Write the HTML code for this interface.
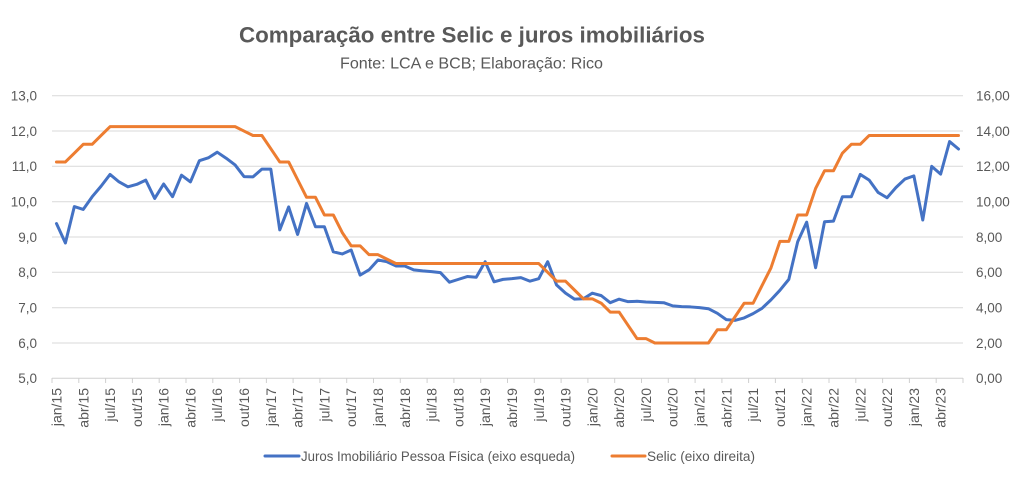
<!DOCTYPE html>
<html>
<head>
<meta charset="utf-8">
<style>
  html, body { margin:0; padding:0; background:#ffffff; }
  body { width:1023px; height:480px; overflow:hidden; }
  svg { display:block; }
  text { font-family: "Liberation Sans", sans-serif; fill:#595959; }
</style>
</head>
<body>
<svg width="1023" height="480" viewBox="0 0 1023 480" xmlns="http://www.w3.org/2000/svg">
  <rect x="0" y="0" width="1023" height="480" fill="#ffffff"/>

  <!-- Title -->
  <text x="472" y="42.5" text-anchor="middle" font-size="22" font-weight="bold" textLength="466" lengthAdjust="spacingAndGlyphs" style="fill:#595959">Comparação entre Selic e juros imobiliários</text>
  <text x="471.5" y="68.3" text-anchor="middle" font-size="15.5" textLength="263" lengthAdjust="spacingAndGlyphs" style="fill:#595959">Fonte: LCA e BCB; Elaboração: Rico</text>

  <!-- Gridlines -->
  <g stroke="#d9d9d9" stroke-width="1">
    <line x1="52" y1="95.7" x2="963" y2="95.7"/>
    <line x1="52" y1="131" x2="963" y2="131"/>
    <line x1="52" y1="166.3" x2="963" y2="166.3"/>
    <line x1="52" y1="201.7" x2="963" y2="201.7"/>
    <line x1="52" y1="237" x2="963" y2="237"/>
    <line x1="52" y1="272.3" x2="963" y2="272.3"/>
    <line x1="52" y1="307.7" x2="963" y2="307.7"/>
    <line x1="52" y1="343" x2="963" y2="343"/>
  </g>
  <!-- X axis line and ticks -->
  <g stroke="#d0d0d0" stroke-width="1">
    <line x1="52" y1="378.3" x2="963" y2="378.3"/>
    <path d="M52,378 v5 M78.8,378 v5 M105.6,378 v5 M132.4,378 v5 M159.2,378 v5 M186,378 v5 M212.8,378 v5 M239.6,378 v5 M266.4,378 v5 M293.1,378 v5 M319.9,378 v5 M346.7,378 v5 M373.5,378 v5 M400.3,378 v5 M427.1,378 v5 M453.9,378 v5 M480.7,378 v5 M507.5,378 v5 M534.3,378 v5 M561.1,378 v5 M587.9,378 v5 M614.7,378 v5 M641.5,378 v5 M668.3,378 v5 M695.1,378 v5 M721.9,378 v5 M748.6,378 v5 M775.4,378 v5 M802.2,378 v5 M829,378 v5 M855.8,378 v5 M882.6,378 v5 M909.4,378 v5 M936.2,378 v5 M963,378 v5" fill="none"/>
  </g>

  <!-- Left axis labels -->
  <g font-size="13.5" text-anchor="end">
    <text x="37" y="95.7" dy="0.36em">13,0</text>
    <text x="37" y="131" dy="0.36em">12,0</text>
    <text x="37" y="166.3" dy="0.36em">11,0</text>
    <text x="37" y="201.7" dy="0.36em">10,0</text>
    <text x="37" y="237" dy="0.36em">9,0</text>
    <text x="37" y="272.3" dy="0.36em">8,0</text>
    <text x="37" y="307.7" dy="0.36em">7,0</text>
    <text x="37" y="343" dy="0.36em">6,0</text>
    <text x="37" y="378.3" dy="0.36em">5,0</text>
  </g>
  <!-- Right axis labels -->
  <g font-size="13.5" text-anchor="start">
    <text x="976" y="95.7" dy="0.36em">16,00</text>
    <text x="976" y="131" dy="0.36em">14,00</text>
    <text x="976" y="166.3" dy="0.36em">12,00</text>
    <text x="976" y="201.7" dy="0.36em">10,00</text>
    <text x="976" y="237" dy="0.36em">8,00</text>
    <text x="976" y="272.3" dy="0.36em">6,00</text>
    <text x="976" y="307.7" dy="0.36em">4,00</text>
    <text x="976" y="343" dy="0.36em">2,00</text>
    <text x="976" y="378.3" dy="0.36em">0,00</text>
  </g>

  <!-- X axis labels -->
  <g font-size="14" text-anchor="end">
    <text transform="translate(56.5,388) rotate(-90)" dy="0.36em">jan/15</text>
    <text transform="translate(83.3,388) rotate(-90)" dy="0.36em">abr/15</text>
    <text transform="translate(110.1,388) rotate(-90)" dy="0.36em">jul/15</text>
    <text transform="translate(136.9,388) rotate(-90)" dy="0.36em">out/15</text>
    <text transform="translate(163.6,388) rotate(-90)" dy="0.36em">jan/16</text>
    <text transform="translate(190.4,388) rotate(-90)" dy="0.36em">abr/16</text>
    <text transform="translate(217.2,388) rotate(-90)" dy="0.36em">jul/16</text>
    <text transform="translate(244,388) rotate(-90)" dy="0.36em">out/16</text>
    <text transform="translate(270.8,388) rotate(-90)" dy="0.36em">jan/17</text>
    <text transform="translate(297.6,388) rotate(-90)" dy="0.36em">abr/17</text>
    <text transform="translate(324.4,388) rotate(-90)" dy="0.36em">jul/17</text>
    <text transform="translate(351.2,388) rotate(-90)" dy="0.36em">out/17</text>
    <text transform="translate(378,388) rotate(-90)" dy="0.36em">jan/18</text>
    <text transform="translate(404.8,388) rotate(-90)" dy="0.36em">abr/18</text>
    <text transform="translate(431.6,388) rotate(-90)" dy="0.36em">jul/18</text>
    <text transform="translate(458.4,388) rotate(-90)" dy="0.36em">out/18</text>
    <text transform="translate(485.2,388) rotate(-90)" dy="0.36em">jan/19</text>
    <text transform="translate(512,388) rotate(-90)" dy="0.36em">abr/19</text>
    <text transform="translate(538.8,388) rotate(-90)" dy="0.36em">jul/19</text>
    <text transform="translate(565.6,388) rotate(-90)" dy="0.36em">out/19</text>
    <text transform="translate(592.3,388) rotate(-90)" dy="0.36em">jan/20</text>
    <text transform="translate(619.1,388) rotate(-90)" dy="0.36em">abr/20</text>
    <text transform="translate(645.9,388) rotate(-90)" dy="0.36em">jul/20</text>
    <text transform="translate(672.7,388) rotate(-90)" dy="0.36em">out/20</text>
    <text transform="translate(699.5,388) rotate(-90)" dy="0.36em">jan/21</text>
    <text transform="translate(726.3,388) rotate(-90)" dy="0.36em">abr/21</text>
    <text transform="translate(753.1,388) rotate(-90)" dy="0.36em">jul/21</text>
    <text transform="translate(779.9,388) rotate(-90)" dy="0.36em">out/21</text>
    <text transform="translate(806.7,388) rotate(-90)" dy="0.36em">jan/22</text>
    <text transform="translate(833.5,388) rotate(-90)" dy="0.36em">abr/22</text>
    <text transform="translate(860.3,388) rotate(-90)" dy="0.36em">jul/22</text>
    <text transform="translate(887.1,388) rotate(-90)" dy="0.36em">out/22</text>
    <text transform="translate(913.9,388) rotate(-90)" dy="0.36em">jan/23</text>
    <text transform="translate(940.7,388) rotate(-90)" dy="0.36em">abr/23</text>
  </g>

  <!-- Blue series (left axis) -->
  <g transform="translate(56.466,554.95) scale(8.931,-35.33)">
    <polyline fill="none" stroke="#4472c4" stroke-width="3" stroke-linejoin="round" stroke-linecap="round" vector-effect="non-scaling-stroke"
      points="0,9.38 1,8.83 2,9.86 3,9.78 4,10.14 5,10.44 6,10.77 7,10.56 8,10.42 9,10.49 10,10.61 11,10.09 12,10.50 13,10.14 14,10.75 15,10.56 16,11.16 17,11.24 18,11.40 19,11.23 20,11.04 21,10.71 22,10.70 23,10.92 24,10.92 25,9.20 26,9.85 27,9.07 28,9.95 29,9.29 30,9.29 31,8.58 32,8.52 33,8.63 34,7.92 35,8.07 36,8.35 37,8.30 38,8.18 39,8.18 40,8.07 41,8.04 42,8.02 43,7.99 44,7.72 45,7.80 46,7.88 47,7.86 48,8.30 49,7.73 50,7.80 51,7.82 52,7.85 53,7.75 54,7.82 55,8.30 56,7.64 57,7.41 58,7.24 59,7.25 60,7.41 61,7.34 62,7.14 63,7.24 64,7.17 65,7.18 66,7.16 67,7.15 68,7.14 69,7.05 70,7.03 71,7.02 72,7.00 73,6.97 74,6.84 75,6.66 76,6.64 77,6.71 78,6.83 79,6.98 80,7.22 81,7.49 82,7.80 83,8.87 84,9.42 85,8.13 86,9.43 87,9.45 88,10.14 89,10.14 90,10.77 91,10.61 92,10.26 93,10.11 94,10.40 95,10.64 96,10.73 97,9.48 98,11.00 99,10.78 100,11.70 101,11.49"/>
  </g>

  <!-- Orange series (right axis) -->
  <g transform="translate(56.466,378.3) scale(8.931,-17.66)">
    <polyline fill="none" stroke="#ed7d31" stroke-width="3" stroke-linejoin="round" stroke-linecap="round" vector-effect="non-scaling-stroke"
      points="0,12.25 1,12.25 2,12.75 3,13.25 4,13.25 5,13.75 6,14.25 20,14.25 21,14 22,13.75 23,13.75 24,13 25,12.25 26,12.25 27,11.25 28,10.25 29,10.25 30,9.25 31,9.25 32,8.25 33,7.5 34,7.5 35,7 36,7 37,6.75 38,6.5 54,6.5 55,6 56,5.5 57,5.5 58,5 59,4.5 60,4.5 61,4.25 62,3.75 63,3.75 64,3 65,2.25 66,2.25 67,2 73,2 74,2.75 75,2.75 76,3.5 77,4.25 78,4.25 79,5.25 80,6.25 81,7.75 82,7.75 83,9.25 84,9.25 85,10.75 86,11.75 87,11.75 88,12.75 89,13.25 90,13.25 91,13.75 101,13.75"/>
  </g>

  <!-- Legend -->
  <line x1="265" y1="456" x2="299" y2="456" stroke="#4472c4" stroke-width="3" stroke-linecap="round"/>
  <text x="301" y="461" font-size="14" textLength="274" lengthAdjust="spacingAndGlyphs">Juros Imobiliário Pessoa Física (eixo esqueda)</text>
  <line x1="612" y1="456" x2="645" y2="456" stroke="#ed7d31" stroke-width="3" stroke-linecap="round"/>
  <text x="647" y="461" font-size="14" textLength="108" lengthAdjust="spacingAndGlyphs">Selic (eixo direita)</text>
</svg>
</body>
</html>
